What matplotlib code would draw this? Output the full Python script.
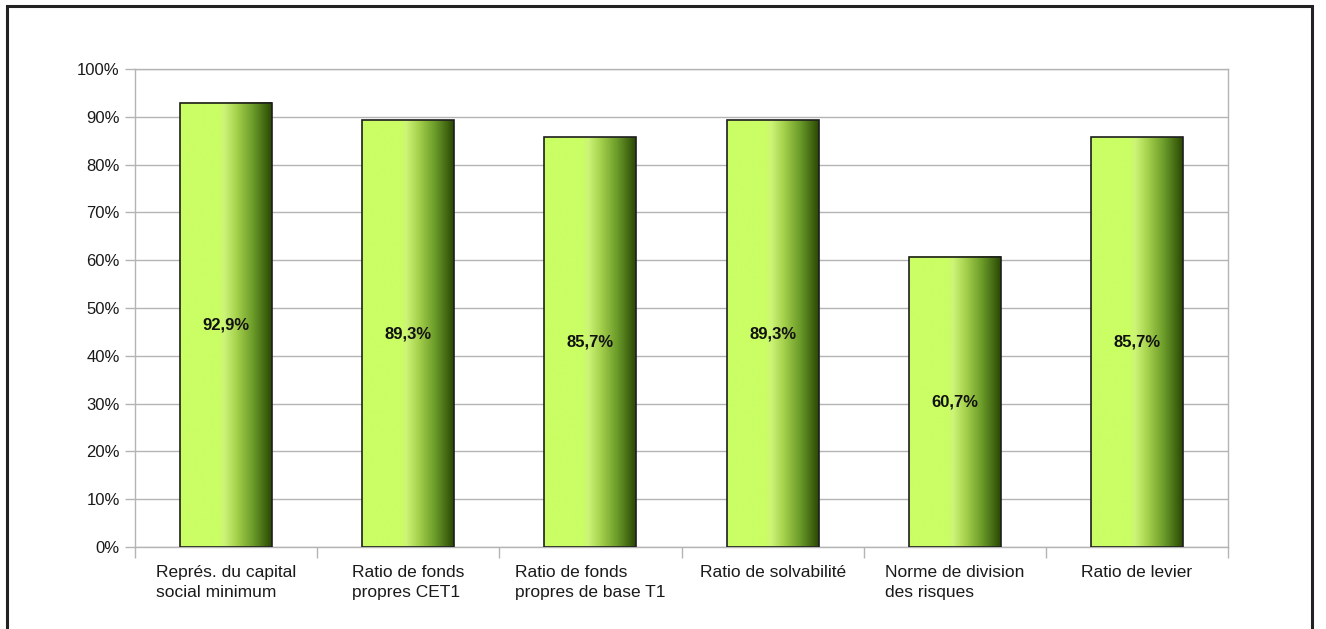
import matplotlib
matplotlib.use("Agg")
import matplotlib.pyplot as plt
import numpy as np
from matplotlib.colors import LinearSegmentedColormap
from matplotlib.patches import Rectangle
from matplotlib.ticker import FixedLocator, PercentFormatter

plt.rcParams["font.family"] = ["Liberation Sans", "DejaVu Sans"]

# data
categories = [
    "Représ. du capital\nsocial minimum",
    "Ratio de fonds\npropres CET1",
    "Ratio de fonds\npropres de base T1",
    "Ratio de solvabilité",
    "Norme de division\ndes risques",
    "Ratio de levier",
]
values = [92.9, 89.3, 85.7, 89.3, 60.7, 85.7]
value_labels = ["92,9%", "89,3%", "85,7%", "89,3%", "60,7%", "85,7%"]
y_ticks = list(range(0, 101, 10))

# horizontal green gradient used to fill each bar
bar_cmap = LinearSegmentedColormap.from_list(
    "bar_green",
    [(0.0, "#CAFE64"), (0.42, "#CAFE64"), (0.48, "#CDF477"),
     (0.62, "#A4D04C"), (0.80, "#6A9A28"), (1.0, "#2A4804")],
)
gradient = np.linspace(0, 1, 256).reshape(1, -1)

fig = plt.figure(figsize=(13.26, 6.29), dpi=100)
ax = fig.add_axes([135 / 1326, 82 / 629, 1093 / 1326, 478 / 629])

bar_width = 0.505
x = np.arange(len(categories))
for xi, v, lab in zip(x, values, value_labels):
    ax.imshow(gradient, cmap=bar_cmap, aspect="auto", interpolation="bilinear",
              extent=[xi - bar_width / 2, xi + bar_width / 2, 0, v], zorder=2)
    ax.text(xi, v / 2, lab, ha="center", va="center", fontsize=12,
            fontweight="bold", color="#111111", zorder=4)
ax.bar(x, values, width=bar_width, fill=False, edgecolor="#1e1e1e",
       linewidth=1.2, zorder=3)

ax.set_xlim(-0.5, len(categories) - 0.5)
ax.set_ylim(0, 100)

# axes styling
grid_col = "#b4b4b4"
for side in ["left", "right", "top", "bottom"]:
    ax.spines[side].set_color(grid_col)
    ax.spines[side].set_linewidth(1.0)
ax.set_yticks(y_ticks)
ax.yaxis.set_major_formatter(PercentFormatter(decimals=0))
ax.yaxis.grid(True, color=grid_col, linewidth=1.0, zorder=0)
ax.set_axisbelow(True)
ax.tick_params(axis="y", length=7, width=1.0, color=grid_col, pad=4,
               labelsize=12, labelcolor="#1a1a1a")

ax.set_xticks(x)
ax.set_xticklabels(categories, multialignment="left", fontsize=12.5,
                   color="#1a1a1a", linespacing=1.4)
ax.xaxis.set_minor_locator(FixedLocator(np.arange(-0.5, len(categories), 1.0)))
ax.tick_params(axis="x", which="major", length=0, pad=13)
ax.tick_params(axis="x", which="minor", length=8, width=1.0, color=grid_col)

# outer frame of the picture
frame = Rectangle((7 / 1326, -0.1), 1305 / 1326, 1.1 - 6 / 629,
                  transform=fig.transFigure, fill=False,
                  edgecolor="#222222", linewidth=2.2, clip_on=False)
fig.add_artist(frame)

fig.savefig("out.png", dpi=100, facecolor="white")
